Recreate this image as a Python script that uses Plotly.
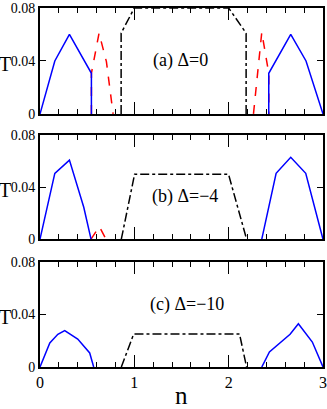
import plotly.graph_objects as go

# panel (a) Delta=0
na_blue_l = [0, 0.157, 0.312, 0.545, 0.545]
ta_blue_l = [0, 0.040, 0.060, 0.0307, 0]
na_blue_r = [2.425, 2.425, 2.658, 2.82, 3.0]
ta_blue_r = [0, 0.0307, 0.060, 0.040, 0]
na_red_l = [0.545, 0.545, 0.626, 0.704, 0.775]
ta_red_l = [0, 0.0307, 0.061, 0.0395, 0]
na_red_r = [2.263, 2.351, 2.425, 2.425]
ta_red_r = [0, 0.0617, 0.0307, 0]
na_blk = [0.86, 0.86, 1.0, 2.0, 2.185, 2.185]
ta_blk = [0, 0.061, 0.080, 0.080, 0.061, 0]

# panel (b) Delta=-4
nb_blue_l = [0, 0.157, 0.312, 0.464, 0.541]
tb_blue_l = [0, 0.0506, 0.0608, 0.0245, 0]
nb_blue_r = [2.351, 2.503, 2.658, 2.817, 3.0]
tb_blue_r = [0, 0.0506, 0.0629, 0.0506, 0]
nb_red = [0.541, 0.629, 0.70]
tb_red = [0, 0.0097, 0]
nb_blk = [0.862, 1.003, 1.998, 2.19]
tb_blk = [0, 0.050, 0.050, 0]

# panel (c) Delta=-10
nc_blue_l = [0, 0.104, 0.189, 0.262, 0.40, 0.527, 0.569]
tc_blue_l = [0, 0.0183, 0.0249, 0.0277, 0.0213, 0.0107, 0]
nc_blue_r = [2.351, 2.432, 2.651, 2.739, 2.887, 3.0]
tc_blue_r = [0, 0.0114, 0.0249, 0.033, 0.019, 0]
nc_blk = [0.862, 0.993, 2.115, 2.19]
tc_blk = [0, 0.0251, 0.0251, 0]

labels = ["(a) Δ=0", "(b) Δ=−4", "(c) Δ=−10"]
label_pos = [(1.49, 0.040), (1.54, 0.0327), (1.56, 0.0475)]

BLUE = "#0000ff"
RED = "#ff0000"
FONT = "Liberation Serif"

panels = [
    [(na_red_l, ta_red_l, RED, "dash"), (na_red_r, ta_red_r, RED, "dash"),
     (na_blue_l, ta_blue_l, BLUE, "solid"), (na_blue_r, ta_blue_r, BLUE, "solid"),
     (na_blk, ta_blk, "black", "dashdot")],
    [(nb_red, tb_red, RED, "dash"),
     (nb_blue_l, tb_blue_l, BLUE, "solid"), (nb_blue_r, tb_blue_r, BLUE, "solid"),
     (nb_blk, tb_blk, "black", "dashdot")],
    [(nc_blue_l, tc_blue_l, BLUE, "solid"), (nc_blue_r, tc_blue_r, BLUE, "solid"),
     (nc_blk, tc_blk, "black", "dashdot")],
]

domains = [[0.705, 1.0], [0.356, 0.646], [0.0, 0.2925]]

fig = go.Figure()
annotations = []
for i, traces in enumerate(panels):
    sfx = "" if i == 0 else str(i + 1)
    for xs, ys, col, dash in traces:
        fig.add_trace(go.Scatter(x=xs, y=ys, mode="lines", xaxis="x" + sfx, yaxis="y" + sfx,
                                 line=dict(color=col, width=1.5, dash=dash), showlegend=False))
    fig.layout["xaxis" + sfx] = dict(
        range=[0, 3], anchor="y" + sfx, domain=[0, 1],
        showgrid=False, zeroline=False, showline=True, linecolor="black", linewidth=2,
        mirror="ticks", ticks="inside", ticklen=12, tickwidth=1, tickcolor="black",
        tickvals=[0, 1, 2, 3], showticklabels=(i == 2),
        minor=dict(dtick=0.2, tick0=0, ticks="inside", ticklen=5, tickcolor="black"),
        tickfont=dict(family=FONT, size=16, color="black"),
    )
    fig.layout["yaxis" + sfx] = dict(
        range=[0, 0.08], anchor="x" + sfx, domain=domains[i],
        showgrid=False, zeroline=False, showline=True, linecolor="black", linewidth=2,
        mirror="ticks", ticks="inside", ticklen=6, tickcolor="black",
        tickvals=[0, 0.04, 0.08], ticktext=["0", "0.04", "0.08"],
        tickfont=dict(family=FONT, size=14, color="black"),
    )
    lx, ly = label_pos[i]
    annotations.append(dict(x=lx, y=ly, xref="x" + sfx, yref="y" + sfx, text=labels[i],
                            showarrow=False, font=dict(family=FONT, size=18, color="black")))
    annotations.append(dict(x=-0.122, y=0.038, xref="paper", yref="y" + sfx, text="T",
                            showarrow=False, xanchor="center",
                            font=dict(family=FONT, size=20, color="black")))

annotations.append(dict(x=0.5, y=-0.078, xref="paper", yref="paper", text="n",
                        showarrow=False, yanchor="middle",
                        font=dict(family=FONT, size=25, color="black")))

fig.update_layout(
    width=327, height=409,
    margin=dict(l=39.5, r=4, t=8, b=42, autoexpand=False),
    paper_bgcolor="white", plot_bgcolor="white",
    annotations=annotations,
)

fig.write_html("out.html", config={"displayModeBar": False},
               post_script="document.body.style.margin='0';")
